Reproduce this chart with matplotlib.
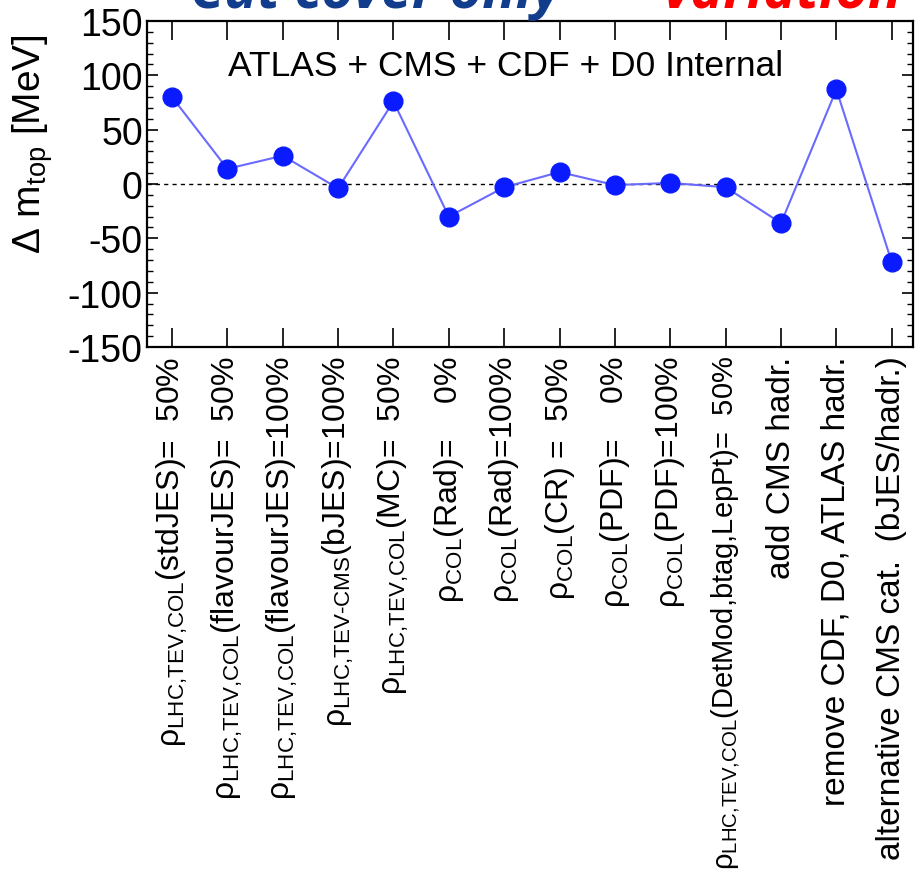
import numpy as np
import matplotlib
matplotlib.use("Agg")
import matplotlib.pyplot as plt
from matplotlib.ticker import MultipleLocator

plt.rcParams['font.family'] = ['Liberation Sans', 'DejaVu Sans']
plt.rcParams['mathtext.fontset'] = 'custom'
plt.rcParams['mathtext.rm'] = 'Liberation Sans'
plt.rcParams['mathtext.it'] = 'Liberation Sans:italic'
plt.rcParams['mathtext.bf'] = 'Liberation Sans:bold'
plt.rcParams['axes.unicode_minus'] = False

# data
labels = [
    r'ρ$_{\mathrm{LHC{,}TEV{,}COL}}$(stdJES)=  50%',
    r'ρ$_{\mathrm{LHC{,}TEV{,}COL}}$(flavourJES)=  50%',
    r'ρ$_{\mathrm{LHC{,}TEV{,}COL}}$(flavourJES)=100%',
    r'ρ$_{\mathrm{LHC{,}TEV\text{-}CMS}}$(bJES)=100%',
    r'ρ$_{\mathrm{LHC{,}TEV{,}COL}}$(MC)=  50%',
    r'ρ$_{\mathrm{COL}}$(Rad)=    0%',
    r'ρ$_{\mathrm{COL}}$(Rad)=100%',
    r'ρ$_{\mathrm{COL}}$(CR) =  50%',
    r'ρ$_{\mathrm{COL}}$(PDF)=    0%',
    r'ρ$_{\mathrm{COL}}$(PDF)=100%',
    r'ρ$_{\mathrm{LHC{,}TEV{,}COL}}$(DetMod,btag,LepPt)=  50%',
    'add CMS hadr.',
    'remove CDF, D0, ATLAS hadr.',
    'alternative CMS cat.  (bJES/hadr.)',
]
delta_mtop = [80, 14, 26, -4, 76, -30, -3, 11, -1, 1, -3, -36, 87, -72]

x = np.arange(len(labels))

fig = plt.figure(figsize=(9.16, 8.95), dpi=100)
ax = fig.add_axes([0.1605, 0.6112, 0.836, 0.3642])

ax.axhline(0, color='black', linestyle=(0, (3, 3)), linewidth=1.0)
ax.plot(x, delta_mtop, color='#6a6aff', linewidth=1.5, zorder=2)
ax.plot(x, delta_mtop, 'o', color='#0a1cff', markersize=13.5, zorder=3)

ax.set_xlim(-0.451, 13.38)
ax.set_ylim(-150, 150)
ax.set_xticks(x)
ax.set_xticklabels(labels, rotation=90, fontsize=24, ha='center', va='top')
for t in ax.get_xticklabels():
    if t.get_text().startswith('ρ'):
        t.set_fontsize(23)
    if 'DetMod' in t.get_text():
        t.set_fontsize(21)
ax.yaxis.set_major_locator(MultipleLocator(50))
ax.yaxis.set_minor_locator(MultipleLocator(10))
ax.tick_params(axis='y', labelsize=27, direction='in', left=True, right=True,
               length=8, width=1.2, pad=3)
ax.tick_params(axis='y', which='minor', direction='in', left=True, right=True,
               length=4, width=1.0)
ax.tick_params(axis='x', direction='in', top=True, bottom=True, length=14,
               width=1.2, pad=6)
for s in ax.spines.values():
    s.set_linewidth(1.6)

ax.set_ylabel(r'$\Delta\ \mathrm{m}_{\mathrm{top}}\ [\mathrm{MeV}]$', fontsize=28)
ax.yaxis.set_label_coords(-0.12, 0.626)

ax.text(0.106, 0.865, 'ATLAS + CMS + CDF + D0 Internal', transform=ax.transAxes,
        fontsize=25.5, ha='left', va='center')

# slide title, cut off at the top of the picture
fig.text(190 / 916, 1 - 21 / 895, 'Cut cover only', color='#123d8c',
         fontsize=40, fontweight='bold', style='italic', ha='left', va='bottom',
         family=['Open Sans', 'DejaVu Sans'])
fig.text(662 / 916, 1 - 21 / 895, 'variation', color='#ff0000',
         fontsize=40, fontweight='bold', style='italic', ha='left', va='bottom',
         family=['Open Sans', 'DejaVu Sans'])

fig.savefig('out.png', dpi=100)
